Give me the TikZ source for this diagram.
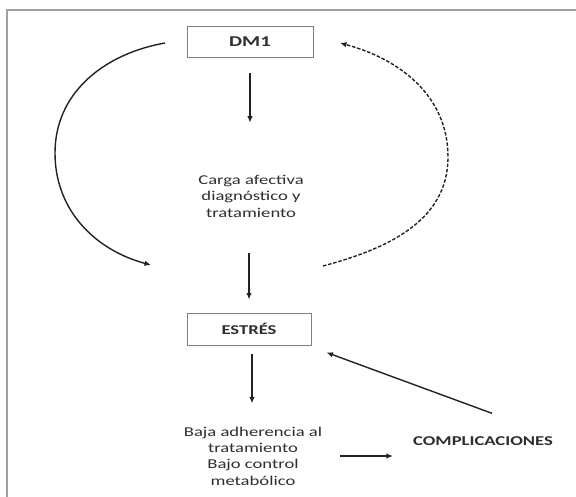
\documentclass[tikz,border=0pt]{standalone}
\usepackage{fontspec}
\setmainfont{Carlito}[FakeStretch=1.38]
\usetikzlibrary{arrows.meta}
\definecolor{txtc}{HTML}{2E2E2E}
\definecolor{boxc}{HTML}{808080}
\definecolor{framec}{HTML}{A0A0A0}
\definecolor{arrc}{HTML}{222222}
\tikzset{
  boxnode/.style={draw=boxc, line width=0.9pt, minimum width=126pt, minimum height=31pt, inner sep=0pt, text=txtc, font=\fontsize{13.5}{16.4}\selectfont\bfseries},
  txtnode/.style={align=center, inner sep=0pt, text=txtc, font=\fontsize{13.5}{16.4}\selectfont},
  arr/.style={draw=arrc, line width=1.4pt, -{Latex[length=6.5pt,width=5.5pt]}},
  dasharr/.style={arr, dash pattern=on 3.5pt off 1.8pt}
}
\begin{document}
\begin{tikzpicture}[x=1pt,y=1pt]
\useasboundingbox (0,0) rectangle (576,-497);
\draw[framec, line width=1.4pt] (7,-505) -- (7,-10) -- (585,-10);

\node[boxnode, font=\fontsize{15}{18}\selectfont\bfseries] (dm) at (250,-42) {DM1};
\node[txtnode] (carga) at (251,-196) {Carga afectiva\\diagnóstico y\\tratamiento};
\node[boxnode, minimum width=124pt, minimum height=32pt] (estres) at (249,-329) {ESTRÉS};
\node[txtnode] (baja) at (253,-456) {Baja adherencia al\\tratamiento\\Bajo control\\metabólico};
\node[txtnode, font=\fontsize{13.5}{16.4}\selectfont\bfseries] (comp) at (483,-441) {COMPLICACIONES};

\coordinate (L1) at (165,-43);
\coordinate (L2) at (55,-153);
\coordinate (L3) at (151,-265);
\coordinate (R1) at (323,-266);
\coordinate (R2) at (448,-157);
\coordinate (R3) at (340,-43);

\draw[arr] (dm.south) ++(0,-15.5) -- ([yshift=52pt]carga.north -| dm.south);
\draw[arr] (carga.south -| estres.north) ++(0,-36) -- ([yshift=13pt]estres.north);
\draw[arr] ([xshift=3pt]estres.south) ++(0,-9) -- ++(0,-49);
\draw[arr] ([xshift=18pt]baja.east) -- ([xshift=-20pt,yshift=-15pt]comp.west);
\draw[arr] ([xshift=9pt,yshift=23pt]comp.north) -- ([xshift=15pt,yshift=-7pt]estres.south east);

\draw[arr] (L1) to[out=190,in=90] (L2) to[out=-90,in=165] (L3);
\draw[dasharr] (R1) to[out=15,in=-90] (R2) to[out=90,in=-15] (R3);
\end{tikzpicture}
\end{document}
